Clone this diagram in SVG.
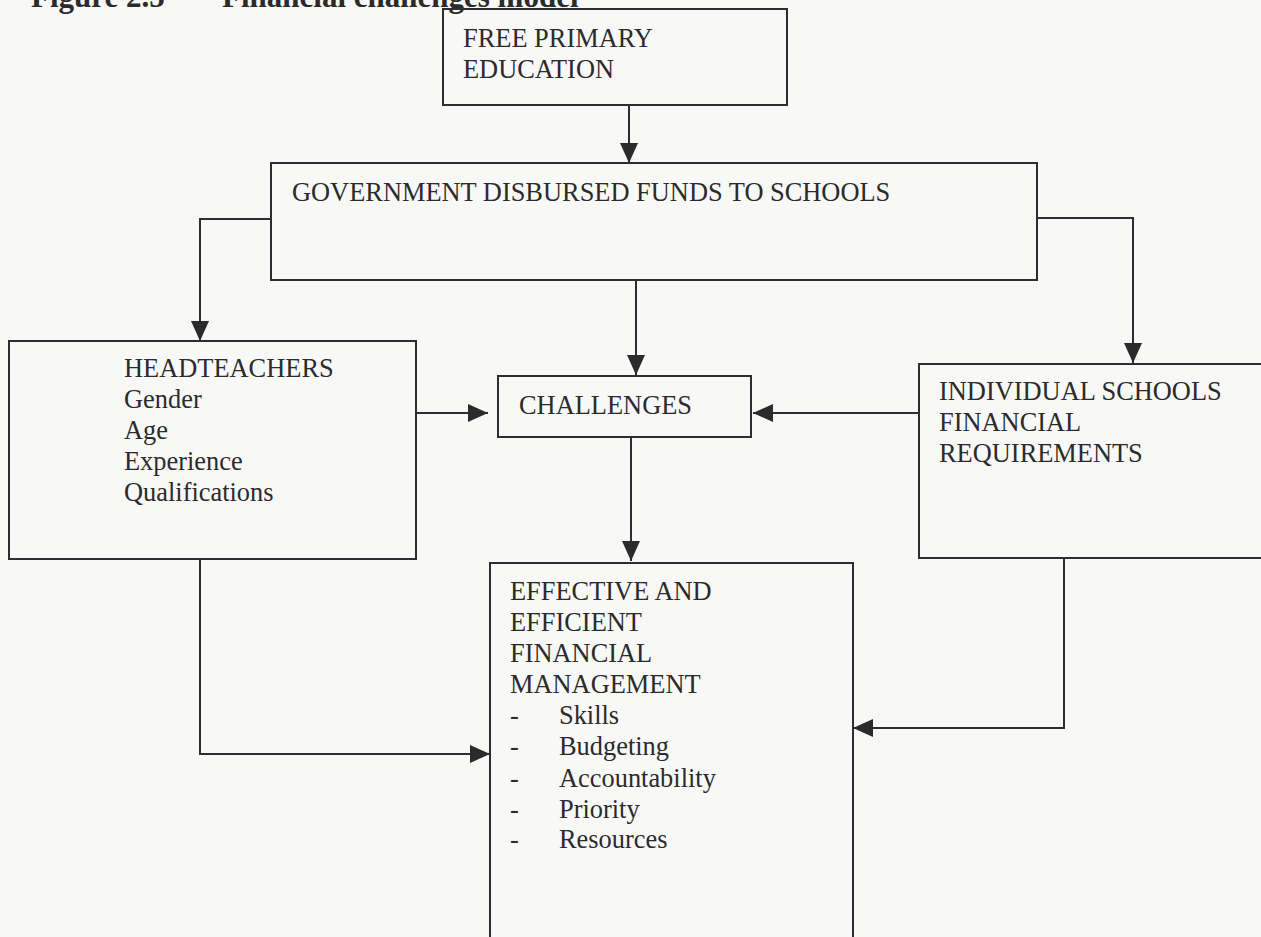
<svg xmlns="http://www.w3.org/2000/svg" width="1261" height="937" viewBox="0 0 1261 937">
  <defs>
    <style>
      .box { fill: none; stroke: #2e2e2e; stroke-width: 2; }
      .conn { fill: none; stroke: #2e2e2e; stroke-width: 2; marker-end: url(#arrow); }
      .t { font-family: "Liberation Serif", "Times New Roman", serif; font-size: 26.4px; fill: #2b2b2b; }
      .title { font-family: "Liberation Serif", "Times New Roman", serif; font-size: 31px; font-weight: bold; fill: #2b2b2b; }
    </style>
    <marker id="arrow" viewBox="0 0 20 18" refX="20" refY="9" markerWidth="20" markerHeight="18" markerUnits="userSpaceOnUse" orient="auto">
      <path d="M0,0 L20,9 L0,18 z" fill="#2b2b2b"/>
    </marker>
  </defs>
  <rect x="0" y="0" width="1261" height="937" fill="#f8f8f7"/>

  <g id="title">
    <text class="title" x="31" y="7">Figure 2.5</text>
    <text class="title" x="222" y="7">Financial challenges model</text>
  </g>

  <g id="connectors">
    <path class="conn" d="M629,105 V163"/>
    <path class="conn" d="M271,219 H200 V341"/>
    <path class="conn" d="M636,280 V375"/>
    <path class="conn" d="M1037,218 H1133 V363"/>
    <path class="conn" d="M416,413 H488"/>
    <path class="conn" d="M919,413 H753"/>
    <path class="conn" d="M631,437 V561"/>
    <path class="conn" d="M200,559 V754 H490"/>
    <path class="conn" d="M1064,558 V728 H853"/>
  </g>

  <g id="free-primary-education">
    <rect class="box" x="443" y="9" width="344" height="96"/>
    <text class="t" x="463" y="47">FREE PRIMARY</text>
    <text class="t" x="463" y="78">EDUCATION</text>
  </g>

  <g id="government-funds">
    <rect class="box" x="271" y="163" width="766" height="117"/>
    <text class="t" x="292" y="201">GOVERNMENT DISBURSED FUNDS TO SCHOOLS</text>
  </g>

  <g id="headteachers">
    <rect class="box" x="9" y="341" width="407" height="218"/>
    <text class="t" x="124" y="377">HEADTEACHERS</text>
    <text class="t" x="124" y="408">Gender</text>
    <text class="t" x="124" y="439">Age</text>
    <text class="t" x="124" y="470">Experience</text>
    <text class="t" x="124" y="501">Qualifications</text>
  </g>

  <g id="challenges">
    <rect class="box" x="498" y="376" width="253" height="61"/>
    <text class="t" x="519" y="414">CHALLENGES</text>
  </g>

  <g id="individual-schools">
    <rect class="box" x="919" y="364" width="350" height="194"/>
    <text class="t" x="939" y="400">INDIVIDUAL SCHOOLS</text>
    <text class="t" x="939" y="431">FINANCIAL</text>
    <text class="t" x="939" y="462">REQUIREMENTS</text>
  </g>

  <g id="effective-management">
    <rect class="box" x="490" y="563" width="363" height="390"/>
    <text class="t" x="510" y="600">EFFECTIVE AND</text>
    <text class="t" x="510" y="631">EFFICIENT</text>
    <text class="t" x="510" y="662">FINANCIAL</text>
    <text class="t" x="510" y="693">MANAGEMENT</text>
    <text class="t" x="510" y="724">-</text>
    <text class="t" x="559" y="724">Skills</text>
    <text class="t" x="510" y="755">-</text>
    <text class="t" x="559" y="755">Budgeting</text>
    <text class="t" x="510" y="787">-</text>
    <text class="t" x="559" y="787">Accountability</text>
    <text class="t" x="510" y="818">-</text>
    <text class="t" x="559" y="818">Priority</text>
    <text class="t" x="510" y="848">-</text>
    <text class="t" x="559" y="848">Resources</text>
  </g>
</svg>
